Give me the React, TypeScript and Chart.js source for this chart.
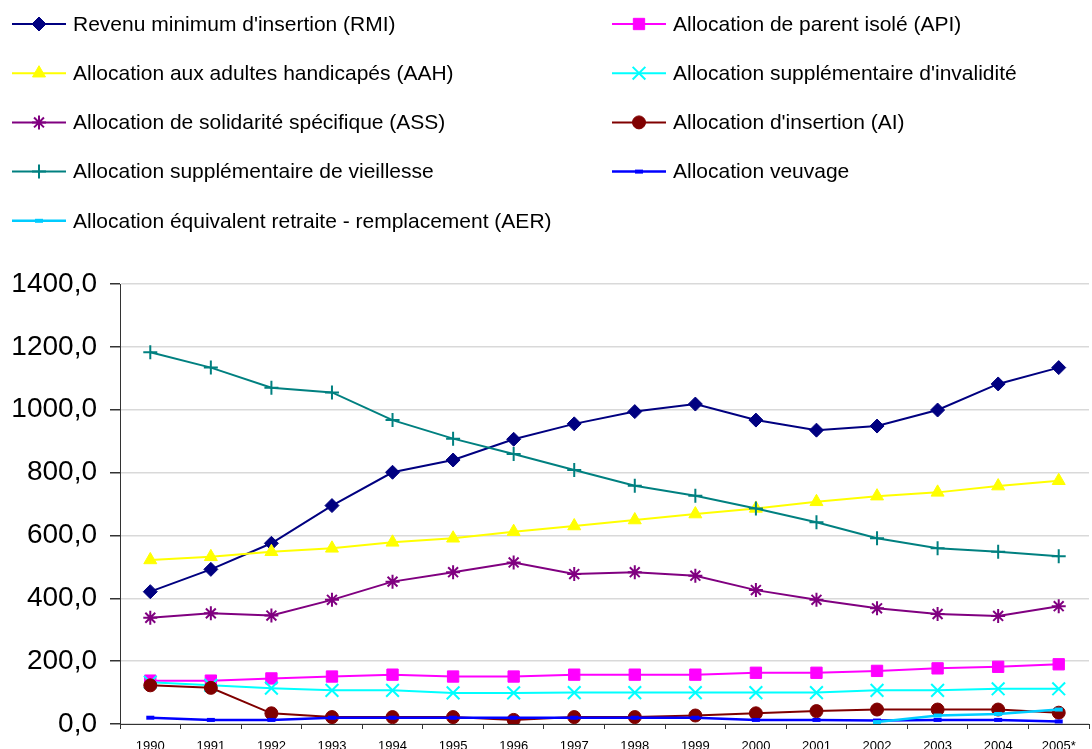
import React, { useEffect, useRef } from 'react';
import { Chart, registerables } from 'chart.js';
import { drawPoint } from 'chart.js/helpers';

Chart.register(...registerables);

const years = ['1990', '1991', '1992', '1993', '1994', '1995', '1996', '1997', '1998', '1999', '2000', '2001', '2002', '2003', '2004', '2005*'];
const rmi = [421, 492, 575, 695, 801, 840, 906, 955, 994, 1018, 967, 935, 948, 999, 1082, 1134];
const api = [138, 138, 145, 151, 157, 151, 151, 157, 157, 157, 163, 163, 169, 177, 182, 190];
const aah = [522, 532, 548, 559, 578, 591, 612, 630, 649, 668, 686, 707, 725, 737, 757, 774];
const asi = [133, 123, 114, 107, 107, 99, 99, 100, 100, 100, 100, 100, 107, 107, 112, 112];
const ass = [338, 352, 345, 395, 453, 483, 514, 477, 483, 472, 426, 395, 368, 350, 344, 375];
const ai = [123, 115, 34, 22, 22, 22, 13, 22, 22, 27, 34, 41, 46, 46, 46, 36];
const asv = [1183, 1134, 1070, 1055, 967, 908, 859, 808, 758, 726, 686, 642, 591, 559, 548, 534];
const veuvage = [20, 13, 13, 20, 20, 20, 20, 20, 20, 20, 13, 13, 11, 13, 13, 8];
const aer = [null, null, null, null, null, null, null, null, null, null, null, null, 6, 27, 32, 46];
const yTicks = [0, 200, 400, 600, 800, 1000, 1200, 1400];

const seriesDefs = [
  { label: "Revenu minimum d'insertion (RMI)", data: rmi, color: '#000080', style: 'rectRot', r: 7, bw: 1, lw: 2 },
  { label: "Allocation de parent isolé (API)", data: api, color: '#ff00ff', style: 'rect', r: 8, bw: 1, lw: 2 },
  { label: "Allocation aux adultes handicapés (AAH)", data: aah, color: '#ffff00', style: 'triangle', r: 7.5, bw: 1, lw: 2 },
  { label: "Allocation supplémentaire d'invalidité", data: asi, color: '#00ffff', style: 'crossRot', r: 9, bw: 2, lw: 2 },
  { label: "Allocation de solidarité spécifique (ASS)", data: ass, color: '#800080', style: 'star', r: 7, bw: 2, lw: 2 },
  { label: "Allocation d'insertion (AI)", data: ai, color: '#800000', style: 'circle', r: 6.5, bw: 1, lw: 2 },
  { label: "Allocation supplémentaire de vieillesse", data: asv, color: '#008080', style: 'cross', r: 7, bw: 2, lw: 2 },
  { label: "Allocation veuvage", data: veuvage, color: '#0000ff', style: 'line', r: 4, bw: 4, lw: 2.5 },
  { label: "Allocation équivalent retraite - remplacement (AER)", data: aer, color: '#00ccff', style: 'line', r: 4, bw: 4, lw: 2.5 },
];

const legendPlugin = {
  id: 'twoColLegend',
  afterDraw(chart: any) {
    const ctx = chart.ctx;
    ctx.save();
    seriesDefs.forEach((s, i) => {
      const col = i % 2;
      const row = Math.floor(i / 2);
      const x0 = col === 0 ? 12 : 612;
      const x1 = col === 0 ? 66 : 666;
      const y = 24 + row * 49.2;
      ctx.strokeStyle = s.color;
      ctx.lineWidth = s.lw;
      ctx.beginPath();
      ctx.moveTo(x0, y);
      ctx.lineTo(x1, y);
      ctx.stroke();
      ctx.fillStyle = s.color;
      ctx.strokeStyle = s.color;
      ctx.lineWidth = s.bw;
      drawPoint(ctx, { pointStyle: s.style, rotation: 0, radius: s.r, borderWidth: s.bw } as any, (x0 + x1) / 2, y);
      ctx.fillStyle = '#000';
      ctx.font = '21px "Liberation Sans", Arial, sans-serif';
      ctx.textBaseline = 'middle';
      ctx.textAlign = 'left';
      ctx.fillText(s.label, col === 0 ? 73 : 673, y + 1);
    });
    ctx.restore();
  },
};

export default function App() {
  const ref = useRef<HTMLCanvasElement | null>(null);
  useEffect(() => {
    if (!ref.current) return;
    const chart = new Chart(ref.current, {
      type: 'line',
      data: {
        labels: years,
        datasets: seriesDefs.map((s, i) => ({
          label: s.label,
          data: s.data as any,
          borderColor: s.color,
          backgroundColor: s.color,
          borderWidth: s.lw,
          pointStyle: s.style as any,
          pointRadius: s.r,
          pointBorderWidth: s.bw,
          pointBackgroundColor: s.color,
          pointBorderColor: s.color,
          tension: 0,
          fill: false,
          order: seriesDefs.length - i,
        })),
      },
      options: {
        responsive: false,
        animation: false,
        events: [],
        layout: { padding: { top: 284, right: 5, left: 0, bottom: 0 } },
        plugins: {
          legend: { display: false },
          tooltip: { enabled: false },
          title: { display: false },
        },
        scales: {
          x: {
            type: 'category',
            offset: true,
            grid: {
              display: true,
              drawOnChartArea: false,
              drawTicks: true,
              tickLength: 5,
              offset: true,
              tickColor: '#333',
            },
            border: { display: true, color: '#333', width: 1 },
            ticks: {
              autoSkip: false,
              maxRotation: 0,
              minRotation: 0,
              padding: 10,
              color: '#000',
              font: { family: '"Liberation Sans", Arial, sans-serif', size: 13 },
            },
            afterFit: (scale: any) => { scale.height = 56; },
          },
          y: {
            min: 0,
            max: 1400,
            afterBuildTicks: (scale: any) => { scale.ticks = yTicks.map((v) => ({ value: v })); },
            grid: {
              color: '#d9d9d9',
              lineWidth: 1.5,
              tickLength: 10,
              tickColor: '#333',
            },
            border: { display: true, color: '#333', width: 1 },
            ticks: {
              padding: 13,
              color: '#000',
              font: { family: '"Liberation Sans", Arial, sans-serif', size: 28 },
              callback: (v: any) => Number(v).toFixed(1).replace('.', ','),
            },
            afterFit: (scale: any) => { scale.width = 120; },
          },
        },
      },
      plugins: [legendPlugin],
    });
    return () => chart.destroy();
  }, []);
  return (
    <div style={{ position: 'fixed', left: 0, top: 0, width: 1092, height: 749, overflow: 'hidden', background: '#fff' }}>
      <canvas ref={ref} width={1100} height={780} style={{ display: 'block', width: 1100, height: 780 }} />
    </div>
  );
}
